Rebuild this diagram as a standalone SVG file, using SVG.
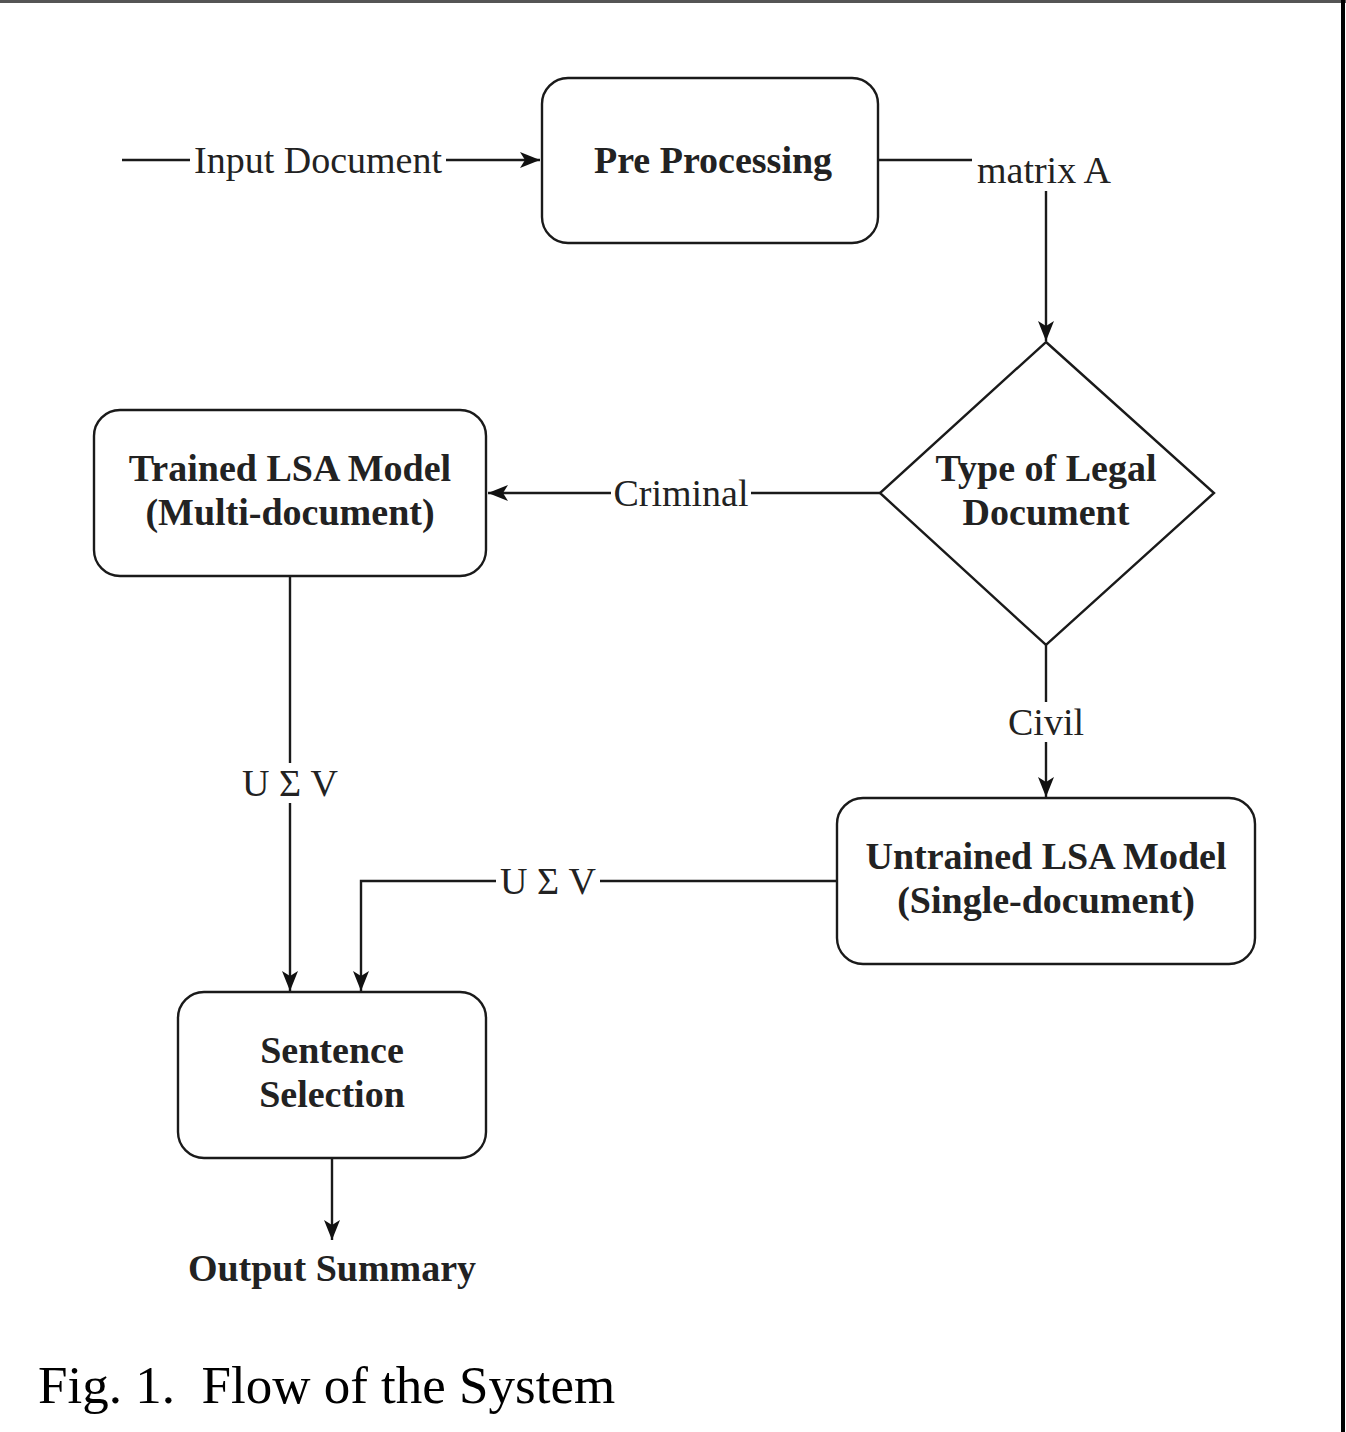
<svg xmlns="http://www.w3.org/2000/svg" width="1346" height="1432" viewBox="0 0 1346 1432">
<defs>
<style>
.box{fill:#fff;stroke:#1a1a1a;stroke-width:2.4}
.edge{fill:none;stroke:#1a1a1a;stroke-width:2.4}
.t{font-family:"Liberation Serif","Times New Roman",serif;font-size:38px;fill:#222;text-anchor:middle;dominant-baseline:central}
.b{font-weight:bold}
.lbl{fill:#fff;stroke:none}
</style>
<marker id="arr" markerUnits="userSpaceOnUse" markerWidth="24" markerHeight="24" viewBox="0 0 24 24" refX="22" refY="12" orient="auto">
<path d="M2,4 L22,12 L2,20 L7,12 Z" fill="#111"/>
</marker>
</defs>
<rect width="1346" height="1432" fill="#fff"/>
<line x1="0" y1="1.5" x2="1346" y2="1.5" stroke="#555" stroke-width="3"/>
<line x1="1343" y1="0" x2="1343" y2="1432" stroke="#000" stroke-width="4"/>

<g id="connectors">
<path class="edge" d="M122,160 H540" marker-end="url(#arr)"/>
<path class="edge" d="M878,160 H1046 V341" marker-end="url(#arr)"/>
<path class="edge" d="M880,493 H488" marker-end="url(#arr)"/>
<path class="edge" d="M1046,645 V797" marker-end="url(#arr)"/>
<path class="edge" d="M290,576 V991" marker-end="url(#arr)"/>
<path class="edge" d="M837,881 H361 V991" marker-end="url(#arr)"/>
<path class="edge" d="M332,1158 V1240" marker-end="url(#arr)"/>
<rect class="lbl" x="190" y="140" width="256" height="40"/>
<text class="t" x="318" y="160">Input Document</text>
<rect class="lbl" x="972" y="145" width="144" height="46"/>
<text class="t" x="1044" y="170">matrix A</text>
<rect class="lbl" x="611" y="473" width="140" height="40"/>
<text class="t" x="681" y="493">Criminal</text>
<rect class="lbl" x="1004" y="702" width="84" height="40"/>
<text class="t" x="1046" y="722">Civil</text>
<rect class="lbl" x="238" y="763" width="104" height="40"/>
<text class="t" x="290" y="783">U Σ V</text>
<rect class="lbl" x="496" y="861" width="104" height="40"/>
<text class="t" x="548" y="881">U Σ V</text>
</g>

<g id="pre-processing">
<rect class="box" x="542" y="78" width="336" height="165" rx="26"/>
<text class="t b" x="713" y="160">Pre Processing</text>
</g>

<g id="type-of-legal-document">
<polygon class="box" points="1046,342 1214,493 1046,645 880,493"/>
<text class="t b" x="1046" y="468">Type of Legal</text>
<text class="t b" x="1046" y="512">Document</text>
</g>

<g id="trained-lsa">
<rect class="box" x="94" y="410" width="392" height="166" rx="26"/>
<text class="t b" x="290" y="468">Trained LSA Model</text>
<text class="t b" x="290" y="512">(Multi-document)</text>
</g>

<g id="untrained-lsa">
<rect class="box" x="837" y="798" width="418" height="166" rx="26"/>
<text class="t b" x="1046" y="856">Untrained LSA Model</text>
<text class="t b" x="1046" y="900">(Single-document)</text>
</g>

<g id="sentence-selection">
<rect class="box" x="178" y="992" width="308" height="166" rx="26"/>
<text class="t b" x="332" y="1050">Sentence</text>
<text class="t b" x="332" y="1094">Selection</text>
</g>

<g id="output-summary">
<text class="t b" x="332" y="1268">Output Summary</text>
</g>

<text x="38" y="1403" xml:space="preserve" font-family="'Liberation Serif','Times New Roman',serif" font-size="53" fill="#000">Fig. 1.  Flow of the System</text>
</svg>
